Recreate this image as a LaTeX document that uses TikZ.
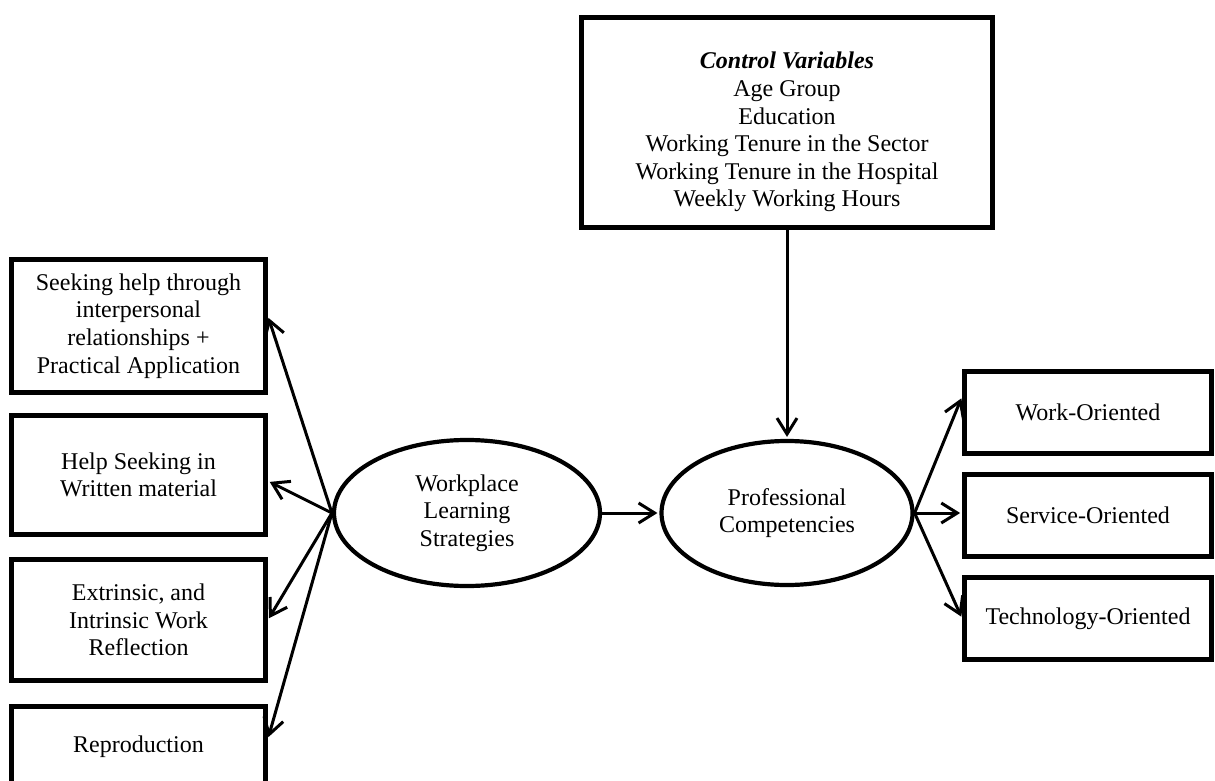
\documentclass[tikz,border=0pt]{standalone}
\usepackage{fontspec}
\setmainfont{Liberation Serif}
\usetikzlibrary{arrows.meta,shapes.geometric}

\begin{document}
\begin{tikzpicture}[x=0.5pt,y=0.5pt,>={Straight Barb[length=8pt,width=10pt]},shorten >=1pt,
  every text node part/.style={align=center},
  font=\fontsize{12pt}{13.8pt}\selectfont,
  box/.style={draw,rectangle,line width=2.4pt,inner sep=2pt},
  leftbox/.style={box,minimum width=127pt},
  rightbox/.style={box,minimum width=123.5pt,minimum height=41pt},
  latent/.style={draw,ellipse,line width=2.1pt,inner sep=1pt},
  link/.style={->,line width=1.5pt}]
  \useasboundingbox (0,0) rectangle (1215,-781);
  % control variables and the two latent constructs
  \node[box,minimum width=205.5pt,minimum height=105pt] (ctrl) at (787,-122.5)
    {\rule{0pt}{18pt}\textbf{\textit{Control Variables}}\\Age Group\\Education\\Working Tenure in the Sector\\Working Tenure in the Hospital\\Weekly Working Hours};
  \node[latent,minimum width=133pt,minimum height=73pt] (wls) at (467,-513) {Workplace\\Learning\\Strategies};
  \node[latent,minimum width=125.5pt,minimum height=72pt] (pc) at (787,-513) {Professional\\Competencies};
  % dimensions of workplace learning
  \node[leftbox,minimum height=66.5pt] (b1) at (138.5,-326) {Seeking help through\\interpersonal\\relationships +\\Practical Application};
  \node[leftbox,minimum height=59.5pt] (b2) [node distance=74.5pt,below of=b1] {Help Seeking in\\Written material};
  \node[leftbox,minimum height=60.5pt] (b3) [node distance=72.5pt,below of=b2] {Extrinsic, and\\Intrinsic Work\\Reflection};
  \node[leftbox,minimum height=40.5pt] (b4) [node distance=63.5pt,below of=b3] {Reproduction};
  % dimensions of competencies
  \node[rightbox] (wo) at (1088,-412.5) {Work-Oriented};
  \node[rightbox] (so) [node distance=51.5pt,below of=wo] {Service-Oriented};
  \node[rightbox] (to) [node distance=51.5pt,below of=so] {Technology-Oriented};
  \path[link] (wls.west) edge ([yshift=5pt]b1.east);
  \path[link] (wls.west) edge ([yshift=-3pt]b2.east);
  \path[link] (wls.west) edge (b3.east);
  \path[link] (wls.west) edge ([yshift=4pt]b4.east);
  \path[link] (wls) edge (pc);
  \path[link] (ctrl) edge (pc);
  \path[link] (pc.east) edge ([yshift=8pt]wo.west);
  \path[link] (pc.east) edge (pc.east -| so.west);
  \path[link] (pc.east) edge (to.west);
\end{tikzpicture}
\end{document}
